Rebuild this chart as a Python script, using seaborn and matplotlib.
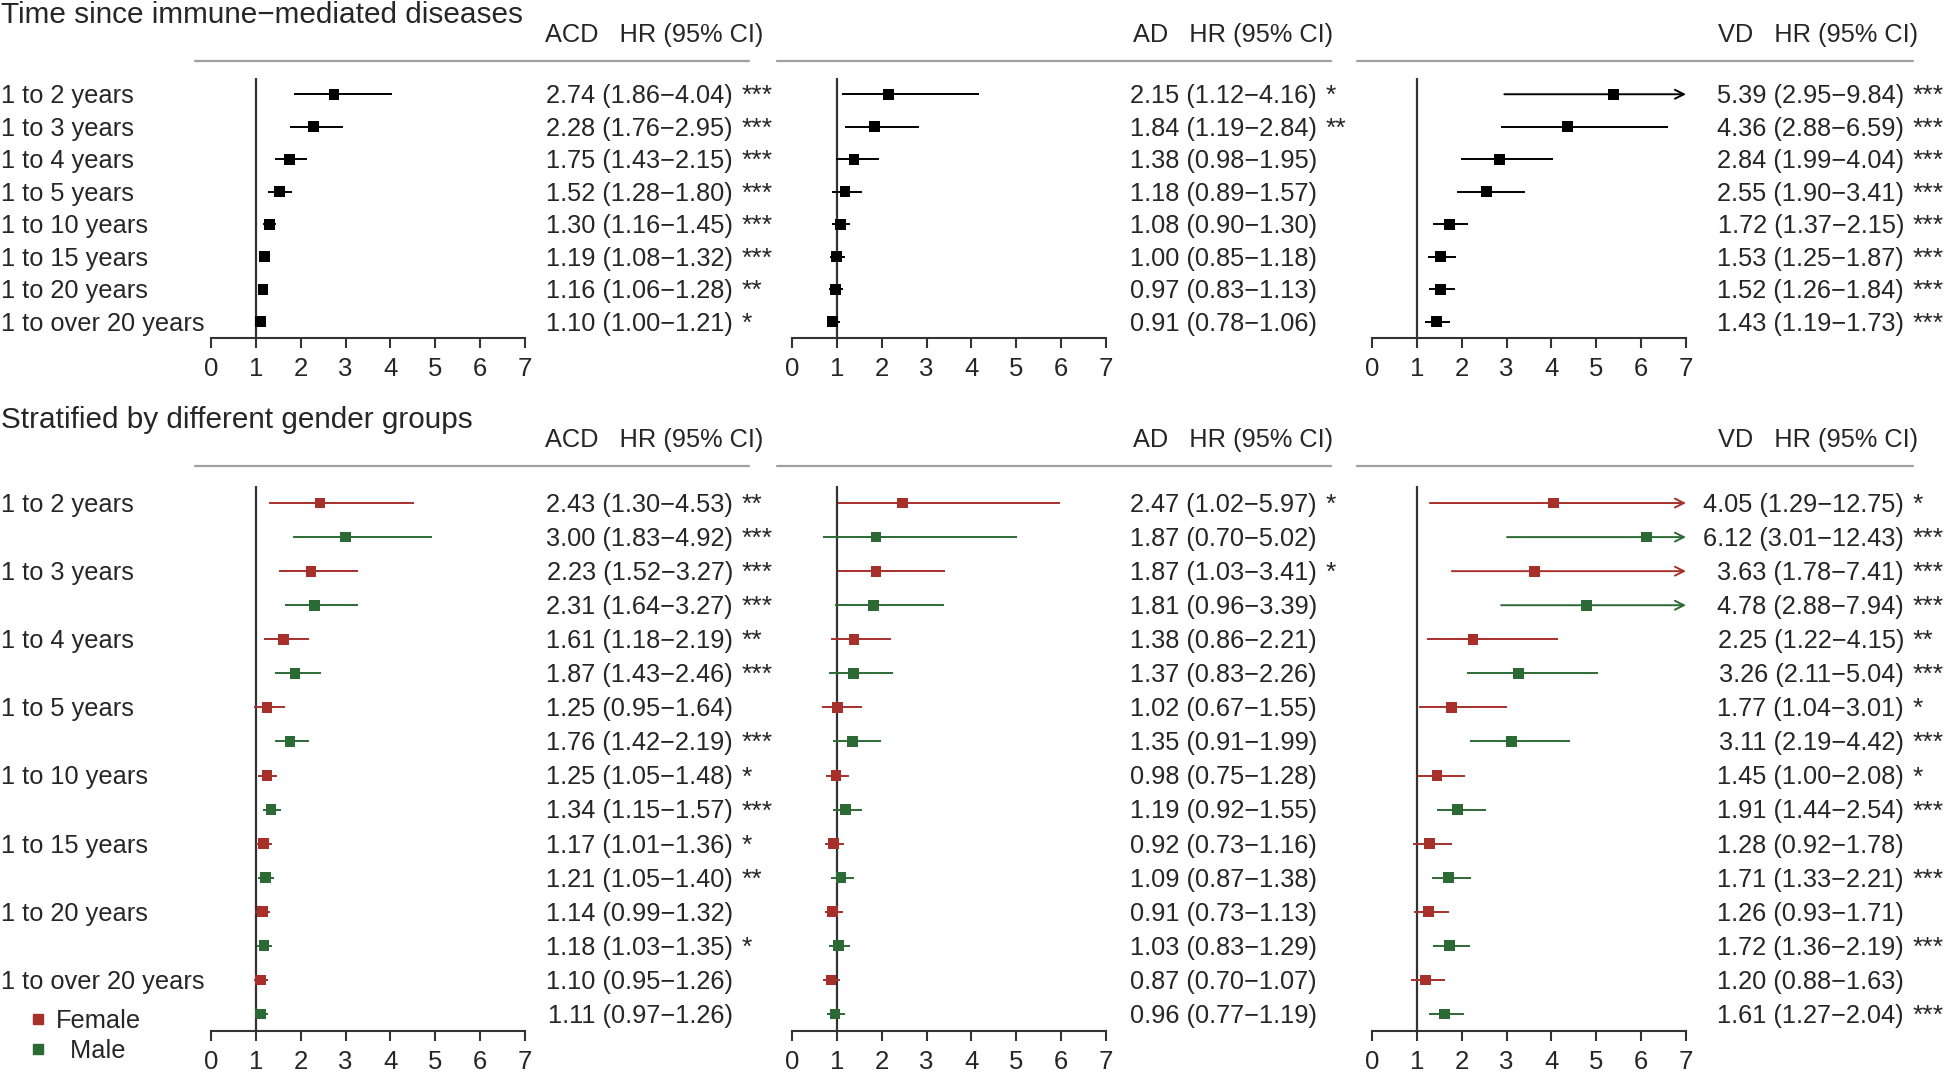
import matplotlib
matplotlib.use("Agg")
import matplotlib.pyplot as plt
import matplotlib.transforms as mtransforms
from matplotlib.lines import Line2D
import pandas as pd
import seaborn as sns

# ---- data ----
periods = ["1 to 2 years", "1 to 3 years", "1 to 4 years", "1 to 5 years",
           "1 to 10 years", "1 to 15 years", "1 to 20 years", "1 to over 20 years"]
outcomes = ["ACD", "AD", "VD"]

# overall
acd_hr = [2.74, 2.28, 1.75, 1.52, 1.30, 1.19, 1.16, 1.10]
acd_lo = [1.86, 1.76, 1.43, 1.28, 1.16, 1.08, 1.06, 1.00]
acd_hi = [4.04, 2.95, 2.15, 1.80, 1.45, 1.32, 1.28, 1.21]
acd_sig = ["***", "***", "***", "***", "***", "***", "**", "*"]

ad_hr = [2.15, 1.84, 1.38, 1.18, 1.08, 1.00, 0.97, 0.91]
ad_lo = [1.12, 1.19, 0.98, 0.89, 0.90, 0.85, 0.83, 0.78]
ad_hi = [4.16, 2.84, 1.95, 1.57, 1.30, 1.18, 1.13, 1.06]
ad_sig = ["*", "**", "", "", "", "", "", ""]

vd_hr = [5.39, 4.36, 2.84, 2.55, 1.72, 1.53, 1.52, 1.43]
vd_lo = [2.95, 2.88, 1.99, 1.90, 1.37, 1.25, 1.26, 1.19]
vd_hi = [9.84, 6.59, 4.04, 3.41, 2.15, 1.87, 1.84, 1.73]
vd_sig = ["***"] * 8

# by gender (female, male alternating within each period)
sex = ["Female", "Male"] * 8

acd_sex_hr = [2.43, 3.00, 2.23, 2.31, 1.61, 1.87, 1.25, 1.76, 1.25, 1.34, 1.17, 1.21, 1.14, 1.18, 1.10, 1.11]
acd_sex_lo = [1.30, 1.83, 1.52, 1.64, 1.18, 1.43, 0.95, 1.42, 1.05, 1.15, 1.01, 1.05, 0.99, 1.03, 0.95, 0.97]
acd_sex_hi = [4.53, 4.92, 3.27, 3.27, 2.19, 2.46, 1.64, 2.19, 1.48, 1.57, 1.36, 1.40, 1.32, 1.35, 1.26, 1.26]
acd_sex_sig = ["**", "***", "***", "***", "**", "***", "", "***", "*", "***", "*", "**", "", "*", "", ""]

ad_sex_hr = [2.47, 1.87, 1.87, 1.81, 1.38, 1.37, 1.02, 1.35, 0.98, 1.19, 0.92, 1.09, 0.91, 1.03, 0.87, 0.96]
ad_sex_lo = [1.02, 0.70, 1.03, 0.96, 0.86, 0.83, 0.67, 0.91, 0.75, 0.92, 0.73, 0.87, 0.73, 0.83, 0.70, 0.77]
ad_sex_hi = [5.97, 5.02, 3.41, 3.39, 2.21, 2.26, 1.55, 1.99, 1.28, 1.55, 1.16, 1.38, 1.13, 1.29, 1.07, 1.19]
ad_sex_sig = ["*", "", "*", "", "", "", "", "", "", "", "", "", "", "", "", ""]

vd_sex_hr = [4.05, 6.12, 3.63, 4.78, 2.25, 3.26, 1.77, 3.11, 1.45, 1.91, 1.28, 1.71, 1.26, 1.72, 1.20, 1.61]
vd_sex_lo = [1.29, 3.01, 1.78, 2.88, 1.22, 2.11, 1.04, 2.19, 1.00, 1.44, 0.92, 1.33, 0.93, 1.36, 0.88, 1.27]
vd_sex_hi = [12.75, 12.43, 7.41, 7.94, 4.15, 5.04, 3.01, 4.42, 2.08, 2.54, 1.78, 2.21, 1.71, 2.19, 1.63, 2.04]
vd_sex_sig = ["*", "***", "***", "***", "**", "***", "*", "***", "*", "***", "", "***", "", "***", "", "***"]

COLORS = {"All": "#000000", "Female": "#A8302B", "Male": "#2C6A35"}
XMAX = 7

sns.set_theme(style="white")
plt.rcParams["font.family"] = ["Liberation Sans", "DejaVu Sans"]

W, H = 1944, 1073
fig = plt.figure(figsize=(W / 100, H / 100), dpi=100)


def fx(px):
    return px / W


def fy(py):
    return 1 - py / H


def make_df(hr, lo, hi, sig, group):
    return pd.DataFrame({"row": range(len(hr)), "hr": hr, "lo": lo, "hi": hi,
                         "sig": sig, "group": group})


def draw_forest(ax, df, text_right):
    n = len(df)
    ax.set_xlim(0, XMAX)
    ax.set_ylim(n - 0.5, -0.5)
    ax.axvline(1, color="#333333", lw=1.6, zorder=1)
    for _, r in df.iterrows():
        c = COLORS[r.group]
        if r.hi > XMAX:
            ax.annotate("", xy=(XMAX, r.row), xytext=(r.lo, r.row),
                        arrowprops=dict(arrowstyle="->", color=c, lw=1.4,
                                        shrinkA=0, shrinkB=0, mutation_scale=16),
                        annotation_clip=False)
        else:
            ax.hlines(r.row, r.lo, r.hi, color=c, lw=1.4, zorder=2)
    sns.scatterplot(data=df, x="hr", y="row", hue="group", palette=COLORS,
                    marker="s", s=60, linewidth=0, ax=ax, legend=False, zorder=3)

    # text column with HR (95% CI) and stars
    trans = mtransforms.blended_transform_factory(fig.transFigure, ax.transData)
    trans = mtransforms.offset_copy(trans, fig=fig, y=-6.4, units="points")
    for _, r in df.iterrows():
        ax.text(fx(text_right), r.row, f"{r.hr:.2f} ({r.lo:.2f}\u2212{r.hi:.2f})",
                transform=trans, ha="right", va="baseline", fontsize=18.3)
        if r.sig:
            ax.text(fx(text_right + 9), r.row, r.sig, transform=trans,
                    ha="left", va="baseline", fontsize=19)

    for s in ["top", "right", "left"]:
        ax.spines[s].set_visible(False)
    ax.spines["bottom"].set_color("#333333")
    ax.spines["bottom"].set_linewidth(1.5)
    ax.set_xticks(range(XMAX + 1))
    ax.set_yticks([])
    ax.tick_params(axis="x", bottom=True, length=7.5, width=1.5, color="#333333",
                   labelsize=18.5, pad=6.5)
    ax.set_xlabel("")
    ax.set_ylabel("")
    ax.patch.set_alpha(0)
    return trans


panel_x = [211, 792, 1372]
text_right = [733, 1317, 1904]
header_right = [763, 1333, 1918]
rule_x = [(195, 749), (777, 1331), (1357, 1913)]

sections = [
    dict(title="Time since immune\u2212mediated diseases", title_y=23, header_y=42,
         rule_y=61, top=78, bottom=338,
         data=[make_df(acd_hr, acd_lo, acd_hi, acd_sig, "All"),
               make_df(ad_hr, ad_lo, ad_hi, ad_sig, "All"),
               make_df(vd_hr, vd_lo, vd_hi, vd_sig, "All")],
         labels=periods, label_rows=list(range(8))),
    dict(title="Stratified by different gender groups", title_y=428, header_y=447,
         rule_y=466, top=486, bottom=1031,
         data=[make_df(acd_sex_hr, acd_sex_lo, acd_sex_hi, acd_sex_sig, sex),
               make_df(ad_sex_hr, ad_sex_lo, ad_sex_hi, ad_sex_sig, sex),
               make_df(vd_sex_hr, vd_sex_lo, vd_sex_hi, vd_sex_sig, sex)],
         labels=periods, label_rows=list(range(0, 16, 2))),
]

for sec in sections:
    fig.text(fx(1), fy(sec["title_y"]), sec["title"], fontsize=21.4,
             ha="left", va="baseline")
    for k, df in enumerate(sec["data"]):
        ax = fig.add_axes([fx(panel_x[k]), fy(sec["bottom"]), 314 / W,
                           (sec["bottom"] - sec["top"]) / H])
        trans = draw_forest(ax, df, text_right[k])
        fig.text(fx(header_right[k]), fy(sec["header_y"]),
                 f"{outcomes[k]}   HR (95% CI)", fontsize=18.3, ha="right", va="baseline")
        x0, x1 = rule_x[k]
        fig.add_artist(Line2D([fx(x0), fx(x1)], [fy(sec["rule_y"])] * 2,
                              color="#a0a0a0", lw=1.6))
        if k == 0:
            for lab, row in zip(sec["labels"], sec["label_rows"]):
                ax.text(fx(1), row, lab, transform=trans, ha="left",
                        va="baseline", fontsize=18.3)

# legend for the gender groups
handles = [Line2D([], [], marker="s", ls="", color=COLORS[g], markersize=7.5)
           for g in ["Female", "Male"]]
fig.legend(handles, ["Female", "  Male"], loc="center left",
           bbox_to_anchor=(fx(28), fy(1036)), frameon=False, fontsize=18.3,
           handlelength=0.8, handletextpad=0.3, labelspacing=0.22, borderpad=0,
           borderaxespad=0)

fig.savefig("out.png", dpi=100)
